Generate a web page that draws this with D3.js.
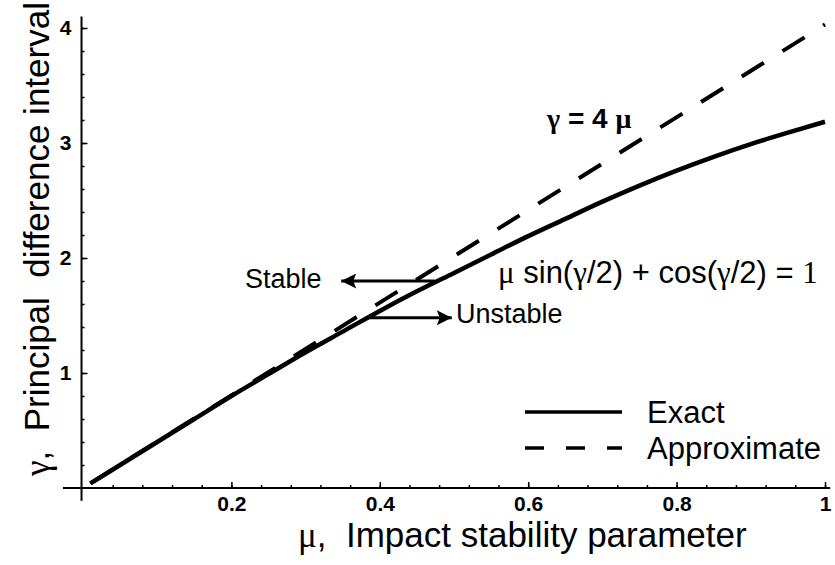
<!DOCTYPE html>
<html>
<head>
<meta charset="utf-8">
<script src="https://cdn.jsdelivr.net/npm/d3@7"></script>
<style>
  body { margin: 0; background: #fff; }
  text { font-family: "Liberation Sans", Arial, Helvetica, sans-serif; fill: #000; white-space: pre; }
  .greek { font-family: "Liberation Serif", "Times New Roman", serif; }
</style>
</head>
<body>
<div id="chart"></div>
<script>
// values
let mu = [0.01, 0.05, 0.1, 0.15, 0.2, 0.25, 0.3, 0.35, 0.4, 0.45, 0.5,
  0.55, 0.6, 0.65, 0.7, 0.75, 0.8, 0.85, 0.9, 0.95, 1.0];
let gammaExact = [0.04, 0.2, 0.4, 0.6, 0.8, 0.99, 1.18, 1.36, 1.54, 1.71, 1.87,
  2.03, 2.19, 2.34, 2.49, 2.63, 2.76, 2.88, 2.99, 3.09, 3.185];
let muApprox = [0.01, 1.0];
let gammaApprox = [0.04, 4.03];

let xMajor = [0.2, 0.4, 0.6, 0.8, 1];
let yMajor = [1, 2, 3, 4];
let xMinor = d3.range(1, 26).map((i) => i * 0.04);
let yMinor = d3.range(1, 21).map((i) => i * 0.2);

// arrows: [mu from, mu to, gamma]
let stableArrow = [0.474, 0.348, 1.8];
let unstableArrow = [0.383, 0.497, 1.48];

let width = 835;
let height = 565;

let x = d3.scaleLinear().domain([0, 1]).range([83, 825]);
let y = d3.scaleLinear().domain([0, 4]).range([488, 28]);

let svg = d3
  .select("#chart")
  .append("svg")
  .attr("width", width)
  .attr("height", height);

// axis lines (crossing at the origin, mathematica style)
svg.append("line")
  .attr("x1", x(-0.027)).attr("x2", x(1.007))
  .attr("y1", y(0)).attr("y2", y(0))
  .attr("stroke", "#000").attr("stroke-width", 2);
svg.append("line")
  .attr("x1", x(-0.002)).attr("x2", x(-0.002))
  .attr("y1", y(-0.11)).attr("y2", y(4.1))
  .attr("stroke", "#000").attr("stroke-width", 2);

// minor ticks (no labels)
svg.append("g")
  .attr("transform", `translate(0,${y(0)})`)
  .call(d3.axisBottom(x).tickValues(xMinor).tickSize(-3).tickSizeOuter(0).tickFormat(""))
  .selectAll("text").remove();
svg.append("g")
  .attr("transform", `translate(${x(-0.002)},0)`)
  .call(d3.axisLeft(y).tickValues(yMinor).tickSize(-3).tickSizeOuter(0).tickFormat(""))
  .selectAll("text").remove();

// major ticks with labels
svg.append("g")
  .attr("transform", `translate(0,${y(0)})`)
  .call(d3.axisBottom(x).tickValues(xMajor).tickSize(-6).tickSizeOuter(0).tickPadding(8)
    .tickFormat((d) => (d === 1 ? "1" : d3.format(".1f")(d))));
svg.append("g")
  .attr("transform", `translate(${x(-0.002)},0)`)
  .call(d3.axisLeft(y).tickValues(yMajor).tickSize(-6).tickSizeOuter(0).tickPadding(10)
    .tickFormat(d3.format("d")));

svg.selectAll(".domain").remove();
svg.selectAll(".tick line").attr("stroke", "#000").attr("stroke-width", 1.5);
svg.selectAll(".tick text")
  .style("font-size", "21px")
  .style("font-weight", "bold")
  .style("font-family", "'Liberation Sans', Arial, sans-serif");

// curves
let line = d3.line()
  .x((d) => x(d[0]))
  .y((d) => y(d[1]))
  .curve(d3.curveMonotoneX);

svg.append("path")
  .datum(d3.zip(muApprox, gammaApprox))
  .attr("d", line)
  .attr("fill", "none")
  .attr("stroke", "#000")
  .attr("stroke-width", 4)
  .attr("stroke-dasharray", "26,22");

svg.append("path")
  .datum(d3.zip(mu, gammaExact))
  .attr("d", line)
  .attr("fill", "none")
  .attr("stroke", "#000")
  .attr("stroke-width", 4.5);

// arrows
svg.append("defs")
  .append("marker")
  .attr("id", "head")
  .attr("viewBox", "0 0 10 10")
  .attr("refX", 10)
  .attr("refY", 5)
  .attr("markerWidth", 24)
  .attr("markerHeight", 15)
  .attr("markerUnits", "userSpaceOnUse")
  .attr("orient", "auto")
  .append("path")
  .attr("d", "M0,0 L10,5 L0,10 L2,5 z")
  .attr("fill", "#000");

[stableArrow, unstableArrow].forEach(function (a) {
  svg.append("line")
    .attr("x1", x(a[0])).attr("x2", x(a[1]))
    .attr("y1", y(a[2])).attr("y2", y(a[2]))
    .attr("stroke", "#000")
    .attr("stroke-width", 3)
    .attr("marker-end", "url(#head)");
});

svg.append("text")
  .attr("x", 245).attr("y", 288)
  .attr("font-size", 27)
  .text("Stable");
svg.append("text")
  .attr("x", 456).attr("y", 323)
  .attr("font-size", 27)
  .text("Unstable");

// equation labels
let approxLabel = svg.append("text")
  .attr("x", 547).attr("y", 128)
  .attr("font-size", 28)
  .attr("font-weight", "bold");
approxLabel.append("tspan").attr("class", "greek").text("γ");
approxLabel.append("tspan").text(" = 4 ");
approxLabel.append("tspan").attr("class", "greek").text("μ");

let exactLabel = svg.append("text")
  .attr("x", 498).attr("y", 283)
  .attr("font-size", 31);
exactLabel.append("tspan").attr("class", "greek").text("μ");
exactLabel.append("tspan").text(" sin(");
exactLabel.append("tspan").attr("class", "greek").text("γ");
exactLabel.append("tspan").text("/2) + cos(");
exactLabel.append("tspan").attr("class", "greek").text("γ");
exactLabel.append("tspan").text("/2) = ");
exactLabel.append("tspan").attr("class", "greek").text("1");

// legend
let legendItems = [
  { label: "Exact", dash: null, yPos: 412 },
  { label: "Approximate", dash: "19,22", yPos: 448 },
];
legendItems.forEach(function (d) {
  svg.append("line")
    .attr("x1", 525).attr("x2", 622)
    .attr("y1", d.yPos).attr("y2", d.yPos)
    .attr("stroke", "#000")
    .attr("stroke-width", 3.5)
    .attr("stroke-dasharray", d.dash);
  svg.append("text")
    .attr("x", 647).attr("y", d.yPos + 11)
    .attr("font-size", 31)
    .text(d.label);
});

// axis titles
let xTitle = svg.append("text")
  .attr("x", 298).attr("y", 547)
  .attr("font-size", 35);
xTitle.append("tspan").attr("class", "greek").text("μ");
xTitle.append("tspan").text(",  Impact stability parameter");

let yTitle = svg.append("text")
  .attr("transform", "translate(49,476)rotate(-90)")
  .attr("font-size", 35);
yTitle.append("tspan").attr("class", "greek").text("γ");
yTitle.append("tspan").text(",  Principal  difference interval");
</script>
</body>
</html>
